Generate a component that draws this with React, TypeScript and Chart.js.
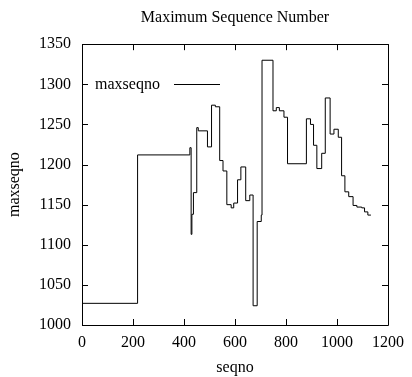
import { useEffect, useRef } from "react";
import { Chart, registerables } from "chart.js";

Chart.register(...registerables);

// seqno at which each step begins
const seqno = [
  0, 218, 423, 428, 431, 437, 450, 456, 492, 508, 523, 540, 553, 568, 585, 595,
  610, 623, 642, 658, 671, 687, 703, 706, 749, 762, 774, 792, 806, 880, 896,
  908, 921, 940, 954, 973, 988, 1005, 1018, 1031, 1046, 1063, 1078, 1097, 1108,
  1121, 1133,
];
// maximum sequence number held from that seqno on
const maxseqno = [
  1027, 1212, 1221, 1113, 1138, 1165, 1246, 1242, 1222, 1274, 1272, 1205, 1192,
  1150, 1146, 1152, 1181, 1197, 1155, 1162, 1024, 1129, 1137, 1330, 1267, 1271,
  1267, 1259, 1201, 1257, 1250, 1224, 1195, 1214, 1283, 1238, 1244, 1234, 1186,
  1166, 1160, 1149, 1147, 1146, 1141, 1137, 1137,
];

const xTicks = [0, 200, 400, 600, 800, 1000, 1200];
const yTicks = [1000, 1050, 1100, 1150, 1200, 1250, 1300, 1350];

const chartTitle = "Maximum Sequence Number";
const xTitle = "seqno";
const yTitle = "maxseqno";
const seriesLabel = "maxseqno";

const FONT = "'Liberation Serif', 'DejaVu Serif', 'Times New Roman', serif";

const frame = {
  id: "gnuplotFrame",
  afterDatasetsDraw(chart: any) {
    const { ctx, chartArea: a, scales } = chart;
    const xs = scales.x;
    const ys = scales.y;
    const tl = 6;
    ctx.save();
    ctx.strokeStyle = "#000";
    ctx.lineWidth = 1;
    ctx.beginPath();
    ctx.rect(Math.round(a.left) + 0.5, Math.round(a.top) + 0.5, Math.round(a.right - a.left), Math.round(a.bottom - a.top));
    for (const v of xTicks) {
      const px = Math.round(xs.getPixelForValue(v)) + 0.5;
      ctx.moveTo(px, a.bottom);
      ctx.lineTo(px, a.bottom - tl);
      ctx.moveTo(px, a.top);
      ctx.lineTo(px, a.top + tl);
    }
    for (const v of yTicks) {
      const py = Math.round(ys.getPixelForValue(v)) + 0.5;
      ctx.moveTo(a.left, py);
      ctx.lineTo(a.left + tl, py);
      ctx.moveTo(a.right, py);
      ctx.lineTo(a.right - tl, py);
    }
    ctx.stroke();

    // legend (text then line sample, gnuplot style)
    const ly = Math.round(a.top + 40) + 0.5;
    ctx.font = `16px ${FONT}`;
    ctx.fillStyle = "#000";
    ctx.textBaseline = "middle";
    ctx.textAlign = "left";
    ctx.fillText(chart.data.datasets[0].label, a.left + 13, ly);
    ctx.beginPath();
    ctx.moveTo(a.left + 92, ly);
    ctx.lineTo(a.left + 138, ly);
    ctx.stroke();
    ctx.restore();
  },
};

export default function App() {
  const ref = useRef<HTMLCanvasElement | null>(null);

  useEffect(() => {
    if (!ref.current) return;
    const chart = new Chart(ref.current, {
      type: "line",
      data: {
        datasets: [
          {
            label: seriesLabel,
            data: seqno.map((x, i) => ({ x, y: maxseqno[i] })),
            stepped: "before",
            borderColor: "#000",
            borderWidth: 1,
            pointRadius: 0,
            fill: false,
          },
        ],
      },
      options: {
        animation: false,
        responsive: false,
        devicePixelRatio: 1,
        layout: { padding: { left: 0, right: 19, top: 0, bottom: 0 } },
        plugins: {
          legend: { display: false },
          tooltip: { enabled: false },
          title: {
            display: true,
            fullSize: false,
            text: chartTitle,
            color: "#000",
            font: { family: FONT, size: 16, weight: "normal" },
            padding: { top: 8, bottom: 17 },
          },
        },
        scales: {
          x: {
            type: "linear",
            min: 0,
            max: 1200,
            afterBuildTicks: (s: any) => {
              s.ticks = xTicks.map((v) => ({ value: v }));
            },
            afterFit: (s: any) => {
              s.height = 52;
            },
            grid: { display: false, drawTicks: false },
            border: { display: false },
            ticks: {
              autoSkip: false,
              maxRotation: 0,
              padding: 8,
              color: "#000",
              font: { family: FONT, size: 16 },
              callback: (v: any) => String(v),
            },
            title: {
              display: true,
              text: xTitle,
              color: "#000",
              font: { family: FONT, size: 16 },
              padding: { top: 0, bottom: 0 },
            },
          },
          y: {
            type: "linear",
            min: 1000,
            max: 1350,
            afterBuildTicks: (s: any) => {
              s.ticks = yTicks.map((v) => ({ value: v }));
            },
            afterFit: (s: any) => {
              s.width = 82;
            },
            grid: { display: false, drawTicks: false },
            border: { display: false },
            ticks: {
              autoSkip: false,
              padding: 11,
              color: "#000",
              font: { family: FONT, size: 16 },
              callback: (v: any) => String(v),
            },
            title: {
              display: true,
              text: yTitle,
              color: "#000",
              font: { family: FONT, size: 16 },
              padding: { top: 5, bottom: 0 },
            },
          },
        },
      },
      plugins: [frame],
    });
    return () => chart.destroy();
  }, []);

  return (
    <div style={{ position: "absolute", left: 0, top: 0, width: 412, height: 377, background: "#fff" }}>
      <canvas ref={ref} width={412} height={377} style={{ display: "block", width: 412, height: 377 }} />
    </div>
  );
}
